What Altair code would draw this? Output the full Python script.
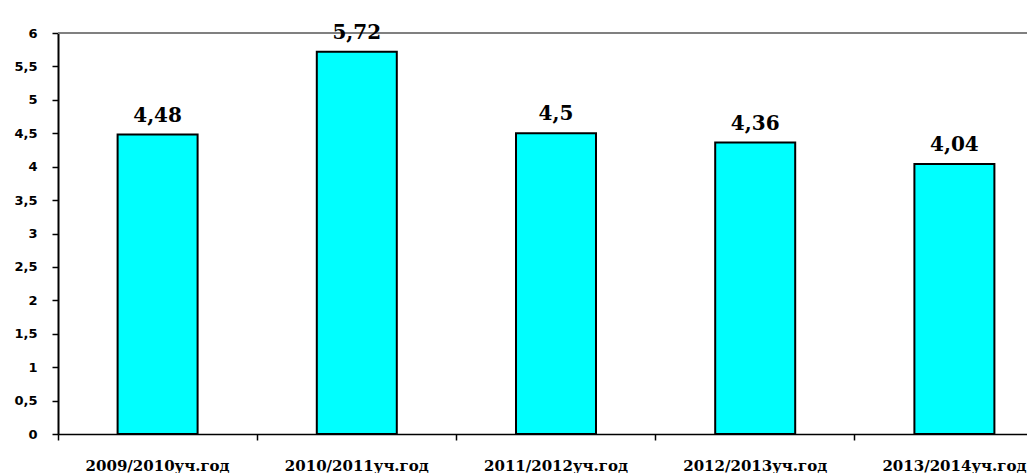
import altair as alt
import pandas as pd

categories = ["2009/2010уч.год", "2010/2011уч.год", "2011/2012уч.год", "2012/2013уч.год", "2013/2014уч.год"]
values = [4.48, 5.72, 4.5, 4.36, 4.04]
y_ticks = [0.0, 0.5, 1.0, 1.5, 2.0, 2.5, 3.0, 3.5, 4.0, 4.5, 5.0, 5.5, 6.0]

df = pd.DataFrame({"cat": categories, "v": values})

x = alt.X("cat:N", sort=categories, title=None,
          scale=alt.Scale(range=[0, 996], paddingInner=0, paddingOuter=0),
          axis=alt.Axis(labelAngle=0, bandPosition=0, labelFont="DejaVu Serif", labelFontWeight="bold",
                        labelFontSize=15, labelColor="black", labelPadding=18, tickSize=6,
                        tickColor="black", domainColor="black", domainWidth=1.5, tickWidth=1.5,
                        grid=False, labelOverlap=False))
yscale = alt.Scale(domain=[0, 6], nice=False, zero=True)
yaxis = alt.Axis(values=y_ticks, labelExpr="replace(toString(datum.value), '.', ',')",
                 labelFont="DejaVu Sans", labelFontWeight="bold", labelFontSize=13,
                 labelColor="black", labelPadding=15, tickSize=6, tickColor="black",
                 domainColor="black", domainWidth=2, tickWidth=1.5, grid=False, labelOverlap=False)
y = alt.Y("v:Q", title=None, scale=yscale, axis=yaxis)

top = alt.Chart(df).mark_rule(color="#808080", strokeWidth=2).encode(
    y=alt.Y(datum=6, scale=yscale, axis=yaxis, title=None))

bars = alt.Chart(df).mark_bar(size=80, color="#00FFFF", stroke="black", strokeWidth=2).encode(x=x, y=y)

text = alt.Chart(df).transform_calculate(
    lbl="replace(toString(datum.v), '.', ',')"
).mark_text(font="DejaVu Serif", fontWeight="bold", fontSize=20, dy=-13, baseline="alphabetic",
            color="black").encode(x=x, y=y, text="lbl:N")

chart = alt.layer(top, bars, text).properties(
    width=969, height=401,
    autosize=alt.AutoSizeParams(type="none"),
    padding={"left": 50, "top": 25, "right": 0, "bottom": 39},
).configure_view(stroke=None).configure(background="white")

chart.save("out.html", embed_options={"renderer": "svg", "actions": False})
